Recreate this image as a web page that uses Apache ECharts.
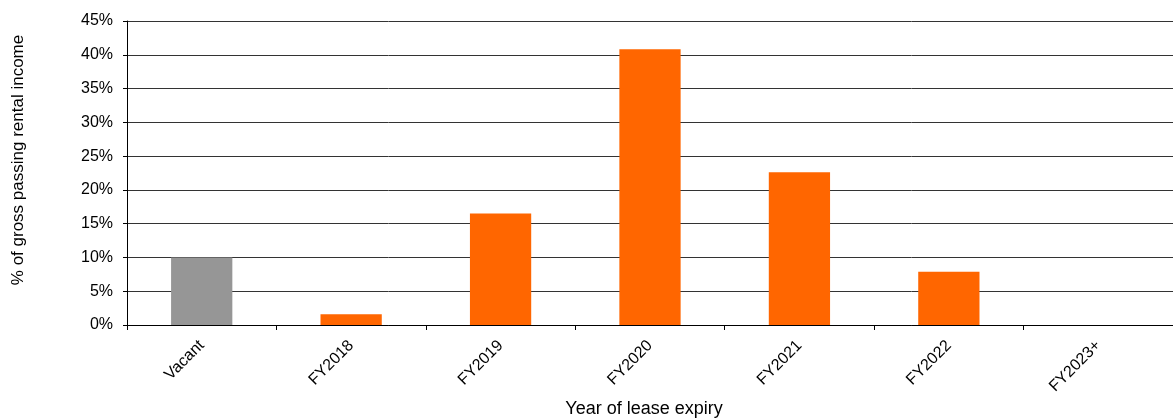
<!DOCTYPE html>
<html><head><meta charset="utf-8">
<script src="https://cdn.jsdelivr.net/npm/echarts@6/dist/echarts.min.js"></script>
<style>html,body{margin:0;padding:0;background:#fff;overflow:hidden}#c{width:1173px;height:419px}</style>
</head><body><div id="c"></div>
<script>
const categories = ['Vacant','FY2018','FY2019','FY2020','FY2021','FY2022','FY2023+'];
const values = [10.0, 1.6, 16.5, 40.8, 22.6, 7.9, 0];
const barColors = ['#969696','#FF6600','#FF6600','#FF6600','#FF6600','#FF6600','#FF6600'];
const yTicks = [0,5,10,15,20,25,30,35,40,45];
const xTitle = 'Year of lease expiry';
const yTitle = '% of gross passing rental income';

const chart = echarts.init(document.getElementById('c'), null, {renderer:'canvas'});
chart.setOption({
  animation:false,
  grid:{left:127,right:0,top:21,bottom:94,containLabel:false},
  graphic:[
    {type:'text', x:18, y:160, rotation:Math.PI/2,
      style:{text:yTitle, fontFamily:'Liberation Sans', fontSize:17, fill:'#000', align:'center', verticalAlign:'middle'}},
    {type:'text', x:644, y:409,
      style:{text:xTitle, fontFamily:'Liberation Sans', fontSize:18, fill:'#000', align:'center', verticalAlign:'middle'}}
  ],
  xAxis:{
    type:'category', data:categories,
    axisLine:{lineStyle:{color:'#000',width:1}},
    axisTick:{show:true,alignWithLabel:false,length:5,lineStyle:{color:'#000'}},
    axisLabel:{rotate:45,fontFamily:'Liberation Sans',fontSize:16,color:'#000',margin:18,interval:0}
  },
  yAxis:{
    type:'value', min:0, max:45, interval:5,
    axisLine:{show:true,lineStyle:{color:'#000',width:1}},
    axisTick:{show:true,length:4,lineStyle:{color:'#000'}},
    axisLabel:{fontFamily:'Liberation Sans',fontSize:16,color:'#000',margin:14,
      formatter:v=>yTicks.includes(v)?v+'%':''},
    splitLine:{show:true,lineStyle:{color:'#333',width:1}}
  },
  series:[{
    type:'bar',
    data:values.map((v,i)=>({value:v,itemStyle:{color:barColors[i]}})),
    barWidth:'41%'
  }]
});
</script></body></html>
